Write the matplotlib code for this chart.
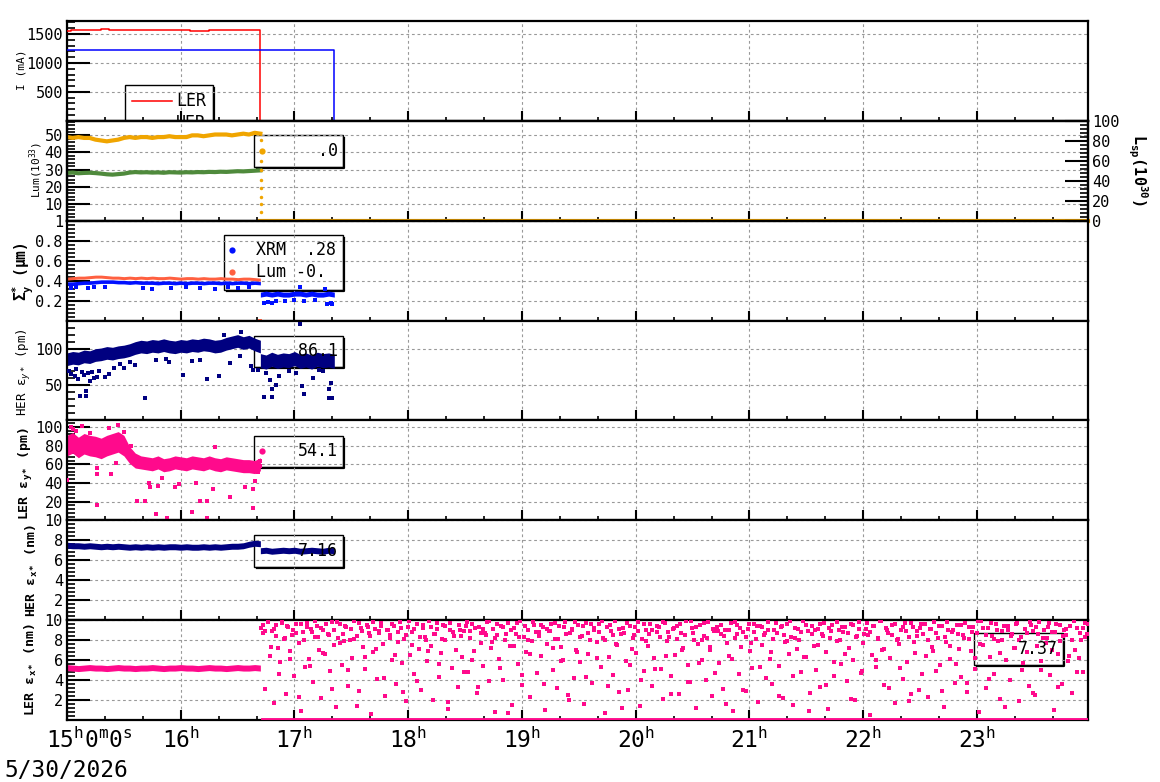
import matplotlib.pyplot as plt
import numpy as np
from matplotlib.patches import Rectangle
from matplotlib.ticker import MultipleLocator

plt.rcParams["font.family"] = ["DejaVu Sans Mono", "DejaVu Sans"]
plt.rcParams["mathtext.fontset"] = "custom"
plt.rcParams["mathtext.rm"] = "DejaVu Sans Mono"
plt.rcParams["mathtext.it"] = "DejaVu Sans Mono:italic"
plt.rcParams["mathtext.bf"] = "DejaVu Sans Mono:bold"

W, H = 1160, 782
X_END = 8.976  # hours after 15:00

# ---- data (time in minutes after 15:00) ----
ler_cur_min = [0, 2, 17, 18, 21, 22, 62, 64, 65, 66, 75, 76, 102, 102, 141]
ler_cur_ma = [1545, 1575, 1575, 1592, 1592, 1575, 1575, 1560, 1550, 1558, 1560, 1575, 1575, 0, 0]
her_cur_min = [0, 1, 141, 141, 143]
her_cur_ma = [1222, 1230, 1230, 0, 0]

band_min = np.arange(0, 103, 3)      # sampling of the pre-abort bands
post_min = np.arange(102, 142, 3)    # HER-only period

lum_ler = [49, 48.5, 49, 48.5, 48.5, 47.5, 47, 46.5, 47, 47.5, 48.5, 49, 48.5, 49, 49,
           48.5, 49, 49, 49.5, 49, 49, 49, 50, 50, 49.5, 50, 50.5, 50.5, 50.5, 50, 50.5,
           51, 50.5, 51.5, 51]
lum_her = [28, 28.2, 27.8, 28, 28.1, 27.9, 27.6, 27.2, 27, 27.3, 27.6, 28.2, 28.5, 28.3,
           28.4, 28.2, 28.3, 28.1, 28.4, 28.3, 28.2, 28.4, 28.3, 28.5, 28.4, 28.6, 28.5,
           28.7, 28.6, 28.8, 29, 28.9, 29.1, 29.3, 29.5]
lum_drop_val = [47, 41, 35, 30, 24, 19, 14, 10, 5]
lum_zero_t = [1.70, X_END]
lum_zero_v = [0, 0]

sig_xrm = [0.37, 0.37, 0.375, 0.38, 0.38, 0.385, 0.39, 0.39, 0.39, 0.385, 0.385, 0.38,
           0.385, 0.38, 0.38, 0.38, 0.375, 0.38, 0.38, 0.375, 0.38, 0.375, 0.38, 0.38,
           0.375, 0.38, 0.38, 0.375, 0.38, 0.375, 0.38, 0.38, 0.375, 0.38, 0.375]
sig_lum = [0.42, 0.425, 0.43, 0.43, 0.435, 0.44, 0.44, 0.435, 0.43, 0.43, 0.425, 0.43,
           0.425, 0.43, 0.425, 0.43, 0.425, 0.425, 0.43, 0.425, 0.42, 0.425, 0.425, 0.42,
           0.425, 0.42, 0.42, 0.425, 0.42, 0.42, 0.415, 0.42, 0.42, 0.415, 0.41]
sig_xrm_post = [0.26, 0.27, 0.26, 0.27, 0.26, 0.26, 0.27, 0.27, 0.26, 0.27, 0.26, 0.26, 0.27, 0.26]
sig_out_min = [2, 5, 11, 14, 20, 40, 45, 55, 63, 70, 78, 85, 90, 96,
               104, 106, 108, 110, 115, 120, 123, 125, 131, 136, 137, 139, 140]
sig_out_val = [0.33, 0.34, 0.33, 0.34, 0.335, 0.33, 0.32, 0.33, 0.34, 0.33, 0.32, 0.335, 0.33, 0.34,
               0.18, 0.19, 0.18, 0.2, 0.2, 0.21, 0.34, 0.2, 0.21, 0.32, 0.17, 0.18, 0.17]

her_ey = [86, 88, 87, 90, 89, 92, 93, 95, 94, 96, 97, 99, 102, 104, 103, 105, 104, 106,
          104, 103, 105, 104, 106, 105, 107, 106, 104, 105, 108, 110, 112, 109, 111, 107, 104]
her_ey_post = [84, 82, 86, 83, 85, 84, 87, 83, 85, 82, 86, 84, 85, 83]
her_ey_out_min = [1, 2, 4, 5, 6, 7, 8, 9, 10, 10, 11, 12, 13, 14, 16, 17, 20, 22, 25, 28,
                  30, 33, 36, 41, 47, 52, 54, 61, 66, 70, 74, 80, 83, 86, 91, 92, 97, 98,
                  101, 104, 105, 107, 108, 108, 110, 112, 117, 121, 123, 124, 125, 130,
                  133, 135, 138, 138, 139, 140, 140]
her_ey_out_val = [70, 65, 62, 72, 58, 34, 68, 63, 34, 41, 66, 55, 68, 60, 61, 70, 61, 65, 74, 79,
                  73, 82, 78, 31, 85, 86, 82, 63, 83, 85, 58, 62, 120, 81, 90, 125, 76, 71,
                  71, 32, 67, 57, 32, 43, 50, 62, 69, 66, 136, 48, 36, 60, 71, 69, 43,
                  31, 52, 79, 31]

ler_ey = [80, 83, 78, 82, 80, 79, 77, 80, 82, 84, 80, 70, 64, 62, 61, 60, 62, 59, 60, 62,
          61, 60, 62, 61, 60, 62, 60, 59, 61, 60, 59, 58, 58, 57, 60]
ler_ey_half = [11, 11, 11, 11, 11, 11, 11, 11, 11, 11, 11, 9, 8, 7, 7, 7, 7, 7, 7, 7, 7, 7,
               7, 7, 7, 7, 7, 7, 7, 7, 7, 7, 7, 7, 7]
ler_ey_out_min = [0, 2, 3, 5, 8, 12, 16, 16, 16, 22, 23, 26, 27, 30, 34, 37, 41, 43, 44, 47,
                  48, 50, 53, 57, 59, 66, 68, 70, 74, 74, 77, 78, 86, 94, 98, 98, 99, 101, 102, 102]
ler_ey_out_val = [43, 100, 98, 96, 101, 94, 56, 50, 16, 99, 50, 61, 102, 95, 80, 21, 21, 40, 36, 7,
                  37, 45, 2, 36, 39, 9, 40, 21, 21, 2, 34, 79, 25, 36, 33, 13, 42, 52, 58, 64]

her_ex = [7.5, 7.45, 7.45, 7.4, 7.45, 7.4, 7.35, 7.4, 7.35, 7.4, 7.35, 7.3, 7.35, 7.3,
          7.35, 7.3, 7.35, 7.3, 7.35, 7.35, 7.3, 7.35, 7.3, 7.3, 7.35, 7.3, 7.35, 7.3,
          7.35, 7.4, 7.4, 7.45, 7.6, 7.7, 7.65]
her_ex_post = [6.95, 7.0, 6.9, 6.95, 7.0, 6.95, 7.0, 6.9, 6.95, 7.0, 6.95, 6.9, 7.0, 6.95]

ler_ex = [5.25, 5.2, 5.15, 5.2, 5.25, 5.2, 5.2, 5.15, 5.2, 5.25, 5.2, 5.2, 5.15, 5.2, 5.2,
          5.25, 5.2, 5.15, 5.2, 5.2, 5.25, 5.2, 5.2, 5.15, 5.2, 5.25, 5.2, 5.2, 5.15, 5.2,
          5.25, 5.2, 5.2, 5.25, 5.2]
# noisy readings after the LER abort (two interleaved sample streams)
ler_ex_scatter_a = [
    9.2, 8.7, 3.1, 9.8, 6.4, 8.9, 1.7, 9.5, 7.2, 5.8, 9.9, 8.1, 2.6, 9.3, 6.9, 8.5, 4.4, 9.6, 7.7, 0.9,
    8.8, 5.3, 9.7, 6.1, 9.1, 3.8, 8.3, 9.4, 7.0, 2.2, 9.0, 6.6, 8.6, 4.9, 9.8, 7.5, 1.3, 8.2, 9.6, 5.5,
    7.9, 9.3, 3.4, 8.0, 6.2, 9.9, 8.4, 2.9, 9.2, 7.3, 5.1, 9.5, 8.7, 0.6, 6.8, 9.1, 4.1, 8.9, 9.7, 7.6,
    2.4, 9.0, 8.5, 6.0, 9.4, 3.6, 7.8, 9.8, 5.7, 8.1, 1.9, 9.3, 6.5, 8.8, 4.6, 9.6, 7.1, 3.0, 9.2, 8.3,
    5.9, 9.9, 7.4, 2.0, 8.6, 9.1, 4.3, 6.7, 9.5, 8.0, 1.1, 9.7, 5.2, 8.4, 7.0, 3.3, 9.0, 6.3, 8.9, 9.4,
    4.8, 8.2, 9.6, 6.9, 2.7, 9.3, 7.7, 5.4, 8.7, 9.8, 3.9, 7.2, 9.1, 0.8, 8.5, 6.1, 9.4, 4.0, 8.0, 9.7,
    7.4, 1.5, 9.2, 8.6, 5.6, 9.9, 3.5, 8.3, 6.8, 9.0, 2.3, 7.9, 9.5, 4.7, 8.8, 6.4, 9.3, 1.0, 7.6, 8.9,
    9.6, 5.0, 8.1, 3.2, 9.4, 7.3, 6.0, 9.8, 2.5, 8.7, 9.1, 4.2, 7.0, 9.5, 5.8, 8.4, 1.6, 9.7, 6.6, 8.0,
    3.7, 9.0, 7.8, 9.6, 5.3, 8.2, 0.7, 9.3, 6.3, 8.9, 4.5, 9.9, 7.5, 2.8, 8.6, 9.2, 5.9, 3.0, 9.4, 7.1,
    8.5, 6.7, 9.8, 1.4, 8.1, 4.9, 9.0, 7.4, 9.6, 3.4, 6.2, 8.8, 9.3, 5.1, 2.1, 9.7, 7.9, 8.3, 4.4, 9.1,
    6.5, 9.4, 2.6, 8.7, 7.2, 9.9, 5.5, 3.8, 9.2, 8.0, 1.2, 7.6, 9.5, 6.0, 8.4, 4.0, 9.8, 7.0, 2.4, 8.9,
    9.3, 5.7, 8.6, 3.1, 9.0, 7.7, 6.4, 9.7, 0.9, 8.2, 9.5, 4.6, 7.3, 8.8, 2.9, 9.1, 6.9, 5.2, 9.6, 8.1,
    1.8, 9.4, 7.5, 8.5, 4.2, 9.8, 6.1, 3.6, 9.0, 8.7, 5.4, 9.3, 2.2, 7.8, 9.6, 6.6, 8.3, 1.5, 9.2, 7.1,
    8.0, 4.8, 9.9, 6.3, 8.9, 2.7, 9.4, 7.4, 5.0, 9.1, 3.3, 8.6, 9.7, 6.8, 1.1, 8.2, 9.5, 4.4, 7.9, 9.0,
    5.6, 8.8, 9.3, 3.9, 7.2, 9.6, 6.0, 2.0, 8.4, 9.8, 4.7, 7.7, 9.1, 8.5, 0.5, 6.5, 9.4, 5.3, 8.1, 9.9,
    7.0, 3.5, 9.2, 8.7, 6.2, 9.5, 1.7, 8.0, 7.6, 9.0, 4.1, 9.7, 5.8, 8.3, 2.6, 9.3, 6.7, 8.9, 3.0, 9.6,
    8.6, 6.4, 2.3, 9.1, 7.3, 9.8, 4.9, 8.2, 5.5, 9.4, 1.3, 7.8, 9.0, 6.1, 8.8, 3.7, 9.5, 7.1, 4.3, 8.5,
    9.7, 2.8, 8.1, 6.9, 9.3, 5.1, 8.7, 0.8, 9.9, 7.5, 3.2, 9.2, 6.3, 8.4, 4.6, 9.6, 7.9, 2.1, 8.0, 9.4,
    6.0, 9.0, 4.0, 8.6, 7.2, 9.7, 1.9, 8.3, 5.7, 9.1, 6.8, 3.4, 9.5, 8.9, 2.5, 7.4, 9.8, 5.0, 8.2, 7.7,
    9.3, 4.5, 8.8, 1.0, 9.6, 6.6, 7.9, 3.6, 9.0, 8.5, 5.9, 9.4, 2.7, 7.0, 9.2, 6.2, 8.0, 4.8, 9.7, 8.6,
]
ler_ex_scatter_b = [
    9.5, 8.9, 9.8, 7.3, 9.1, 8.4, 4.6, 9.7, 8.2, 9.4, 6.1, 9.0, 8.7, 2.3, 9.6, 8.0, 9.3, 5.4, 8.8, 9.9,
    8.3, 9.2, 6.7, 9.6, 8.5, 3.1, 9.0, 9.8, 7.7, 8.6, 9.4, 5.0, 9.1, 8.1, 1.4, 9.7, 8.9, 6.3, 9.3, 8.4,
    9.8, 7.1, 8.7, 9.4, 4.2, 9.0, 8.2, 9.6, 6.5, 8.8, 9.2, 2.8, 8.5, 9.9, 7.5, 9.1, 3.9, 8.3, 9.5, 8.0,
    6.9, 9.3, 8.6, 9.7, 5.6, 8.1, 9.4, 1.8, 9.0, 8.8, 7.0, 9.5, 8.4, 4.8, 9.8, 8.9, 6.0, 9.2, 3.3, 8.7,
    9.1, 8.5, 9.9, 7.8, 8.2, 9.6, 5.2, 9.3, 8.6, 0.7, 9.0, 7.4, 9.7, 8.3, 4.5, 9.4, 8.0, 6.6, 9.8, 8.8,
    8.4, 9.5, 3.6, 9.1, 8.9, 7.2, 9.7, 8.1, 5.9, 9.3, 8.6, 2.0, 9.0, 9.8, 6.8, 8.3, 9.4, 4.3, 8.7, 9.6,
    9.2, 6.2, 8.8, 9.9, 8.0, 3.4, 9.5, 8.5, 7.6, 9.1, 1.2, 8.7, 9.7, 5.5, 8.2, 9.3, 8.9, 4.0, 9.6, 7.9,
    8.6, 9.0, 5.1, 9.4, 8.3, 9.8, 6.4, 8.8, 2.6, 9.2, 8.1, 9.6, 7.0, 8.5, 3.8, 9.9, 8.7, 9.3, 5.7, 8.0,
    9.7, 8.2, 7.3, 9.1, 4.7, 8.9, 9.5, 8.4, 1.6, 9.0, 6.1, 9.8, 8.6, 9.2, 3.0, 8.3, 9.6, 7.7, 8.8, 9.4,
    5.3, 9.3, 8.7, 9.0, 6.8, 8.1, 9.7, 2.4, 9.4, 8.5, 7.9, 9.9, 4.4, 8.2, 9.1, 8.8, 6.3, 9.5, 0.9, 8.6,
    9.0, 7.5, 9.6, 8.4, 3.5, 9.2, 8.9, 5.8, 9.8, 8.0, 9.3, 6.6, 8.7, 2.1, 9.5, 8.3, 9.1, 4.9, 8.6, 9.7,
    8.8, 9.4, 6.0, 8.2, 9.9, 7.1, 9.0, 3.2, 8.5, 9.6, 8.1, 5.2, 9.3, 8.9, 1.9, 9.7, 7.8, 8.4, 9.2, 4.6,
    9.6, 8.0, 9.1, 6.9, 8.7, 9.4, 2.9, 8.3, 9.8, 7.4, 9.0, 5.6, 8.6, 9.5, 8.2, 3.7, 9.3, 8.8, 6.2, 9.9,
    7.6, 9.2, 8.5, 4.1, 9.7, 8.1, 9.0, 6.7, 8.9, 1.3, 9.4, 8.4, 7.2, 9.6, 8.0, 5.0, 9.1, 8.7, 9.8, 2.7,
    9.3, 8.6, 5.9, 9.0, 8.2, 9.7, 7.0, 8.8, 3.3, 9.5, 8.4, 9.1, 6.4, 8.0, 9.9, 4.8, 8.7, 9.2, 8.3, 9.6,
]
ler_zero_t = [1.72, X_END]
ler_zero_v = [0, 0]

hour_labels = ["", "16", "17", "18", "19", "20", "21", "22", "23"]

ORANGE = "#f0a500"
GREEN = "#4f8a3c"
TOMATO = "#ff6040"
BLUE = "#0010ff"
NAVY = "#000080"
PINK = "#ff0a8c"

fig = plt.figure(figsize=(W / 100, H / 100), dpi=100)
ph = 699 / 7
axes = []
for i in range(7):
    top = 21 + i * ph
    axes.append(fig.add_axes([67 / W, 1 - (top + ph) / H, (1088 - 67) / W, ph / H]))


def style(ax, ylim, majors, labels, minor):
    ax.set_xlim(0, X_END)
    ax.set_ylim(*ylim)
    ax.set_yticks(majors)
    ax.set_yticklabels(labels)
    ax.yaxis.set_minor_locator(MultipleLocator(minor))
    ax.set_xticks(np.arange(0, 9))
    ax.xaxis.set_minor_locator(MultipleLocator(1 / 3))
    ax.tick_params(axis="y", which="major", direction="in", length=16.5, width=1.5, labelsize=11, pad=3)
    ax.tick_params(axis="y", which="minor", direction="in", length=5.8, width=1.2)
    ax.tick_params(axis="x", which="major", direction="in", length=7.2, width=1.5)
    ax.tick_params(axis="x", which="minor", direction="in", length=3, width=1.2)
    ax.tick_params(axis="x", labelbottom=False)
    ax.grid(True, which="major", color="#999999", linestyle=(0, (2.5, 2.5)), linewidth=0.8)
    for s in ax.spines.values():
        s.set_linewidth(1.6)


def band(ax, minutes, center, half, color):
    t = np.asarray(minutes) / 60
    c = np.asarray(center)
    h = np.asarray(half)
    ax.fill_between(t, c - h, c + h, color=color, lw=0, zorder=2)


def fx(px):
    return px / W


def fy(py):
    return 1 - py / H


def legend_box(ax, x0, y0, x1, y1, fill=False):
    ax.add_patch(Rectangle((fx(x0), fy(y1)), fx(x1) - fx(x0), fy(y0) - fy(y1),
                           transform=fig.transFigure, fill=fill, fc="white", ec="black",
                           lw=1.0, zorder=1.5, clip_on=False))
    ax.plot([fx(x1 + 1), fx(x1 + 1), fx(x0 + 3)], [fy(y0 + 3), fy(y1 + 1), fy(y1 + 1)],
            transform=fig.transFigure, color="black", lw=1.6, zorder=1.5, clip_on=False)


def legend_text(ax, px, py, s, ha="left", size=12):
    ax.text(fx(px), fy(py), s, transform=fig.transFigure, ha=ha, va="center",
            fontsize=size, zorder=5, clip_on=False)


def legend_dot(ax, px, py, color):
    ax.plot([fx(px)], [fy(py)], "o", color=color, ms=4.5, mew=0,
            transform=fig.transFigure, zorder=5, clip_on=False)


# ---- panel 1: currents ----
ax = axes[0]
style(ax, (0, 1724), [500, 1000, 1500], ["500", "1000", "1500"], 100)
ax.plot(np.asarray(ler_cur_min) / 60, ler_cur_ma, color="red", lw=1.1, drawstyle="steps-post", zorder=3)
ax.plot(np.asarray(her_cur_min) / 60, her_cur_ma, color="blue", lw=1.1, drawstyle="steps-post", zorder=3)
legend_box(ax, 125, 85, 213, 140, fill=True)
ax.plot([fx(132), fx(172)], [fy(101), fy(101)], transform=fig.transFigure, color="red", lw=1.1, zorder=5, clip_on=False)
ax.plot([fx(132), fx(172)], [fy(123), fy(123)], transform=fig.transFigure, color="blue", lw=1.1, zorder=5, clip_on=False)
legend_text(ax, 176, 101, "LER")
legend_text(ax, 176, 123, "HER")

# ---- panel 2: luminosity ----
ax = axes[1]
style(ax, (0, 58.5), [10, 20, 30, 40, 50], ["10", "20", "30", "40", "50"], 2)
ax.plot(band_min / 60, lum_ler, color=ORANGE, lw=3, zorder=3)
ax.plot(band_min / 60, lum_her, color=GREEN, lw=3, zorder=3)
ax.plot([1.705] * len(lum_drop_val), lum_drop_val, "o", color=ORANGE, ms=2.5, mew=0, zorder=3)
ax.plot(lum_zero_t, lum_zero_v, color=ORANGE, lw=3, zorder=6, clip_on=False)
axr = ax.twinx()
axr.set_ylim(0, 100)
axr.set_yticks([0, 20, 40, 60, 80, 100])
axr.yaxis.set_minor_locator(MultipleLocator(4))
axr.tick_params(axis="y", which="major", direction="in", length=16.5, width=1.5, labelsize=11, pad=3)
axr.tick_params(axis="y", which="minor", direction="in", length=5.8, width=1.2)
for s in axr.spines.values():
    s.set_linewidth(1.6)
legend_box(ax, 254, 135, 343, 167)
legend_dot(ax, 262, 151, ORANGE)
legend_text(ax, 338, 151, ".0", ha="right")

# ---- panel 3: vertical beam size ----
ax = axes[2]
style(ax, (0, 1), [0.2, 0.4, 0.6, 0.8, 1.0], ["0.2", "0.4", "0.6", "0.8", "1"], 0.04)
band(ax, band_min, sig_xrm, 0.018, BLUE)
band(ax, band_min, sig_lum, 0.015, TOMATO)
band(ax, post_min, sig_xrm_post, 0.025, BLUE)
ax.plot(np.asarray(sig_out_min) / 60, sig_out_val, "s", color=BLUE, ms=2.2, mew=0, zorder=3)
ax.plot([1.70], [0.0], "s", color=TOMATO, ms=3, mew=0, zorder=3, clip_on=False)
legend_box(ax, 224, 235, 343, 290)
legend_dot(ax, 232, 250, BLUE)
legend_dot(ax, 232, 272, TOMATO)
legend_text(ax, 256, 250, "XRM  .28")
legend_text(ax, 256, 272, "Lum -0.")

# ---- panel 4: HER vertical emittance ----
ax = axes[3]
style(ax, (-1, 141), [50, 100], ["50", "100"], 10)
legend_box(ax, 254, 336, 343, 367)
legend_text(ax, 338, 351, "86.1", ha="right")
band(ax, band_min, her_ey, 9, NAVY)
band(ax, post_min, her_ey_post, 10, NAVY)
ax.plot(np.asarray(her_ey_out_min) / 60, her_ey_out_val, "s", color=NAVY, ms=2.4, mew=0, zorder=3)

# ---- panel 5: LER vertical emittance ----
ax = axes[4]
style(ax, (0, 107), [20, 40, 60, 80, 100], ["20", "40", "60", "80", "100"], 4)
band(ax, band_min, ler_ey, ler_ey_half, PINK)
ax.plot(np.asarray(ler_ey_out_min) / 60, ler_ey_out_val, "s", color=PINK, ms=2.4, mew=0, zorder=3)
legend_box(ax, 254, 436, 343, 467)
legend_dot(ax, 262, 451, PINK)
legend_text(ax, 338, 451, "54.1", ha="right")

# ---- panel 6: HER horizontal emittance ----
ax = axes[5]
style(ax, (0, 10), [2, 4, 6, 8, 10], ["2", "4", "6", "8", "10"], 0.4)
legend_box(ax, 254, 535, 343, 567)
legend_text(ax, 338, 551, "7.16", ha="right")
band(ax, band_min, her_ex, 0.3, NAVY)
band(ax, post_min, her_ex_post, 0.3, NAVY)

# ---- panel 7: LER horizontal emittance ----
ax = axes[6]
style(ax, (0, 10), [2, 4, 6, 8, 10], ["2", "4", "6", "8", "10"], 0.4)
legend_box(ax, 974, 633, 1063, 665)
legend_text(ax, 1058, 649, "7.37", ha="right")
band(ax, band_min, ler_ex, 0.3, PINK)
t_a = np.linspace(102.5, 538, len(ler_ex_scatter_a)) / 60
t_b = np.linspace(103.2, 538.6, len(ler_ex_scatter_b)) / 60
ax.plot(t_a, ler_ex_scatter_a, "s", color=PINK, ms=2.9, mew=0, zorder=3)
ax.plot(t_b, ler_ex_scatter_b, "s", color=PINK, ms=2.9, mew=0, zorder=3)
ax.plot(ler_zero_t, ler_zero_v, color=PINK, lw=3.5, zorder=3)
ax.tick_params(axis="x", labelbottom=True, labelsize=16.5, pad=5)
ax.set_xticklabels([r"$\mathrm{%s^{h}}$" % s if s else "" for s in hour_labels])

fig.text(fx(46), fy(727), r"$\mathrm{15^{h}0^{m}0^{s}}$", fontsize=16.5, ha="left", va="top")
fig.text(fx(4), fy(777), "5/30/2026", fontsize=16.5, ha="left", va="baseline")

# ---- axis titles ----
fig.text(fx(22), fy(70), "I (mA)", rotation=90, ha="center", va="center", fontsize=8)
fig.text(fx(36), fy(170), "Lum(10$^{33}$)", rotation=90, ha="center", va="center", fontsize=8)
fig.text(fx(23), fy(272), r"Σ$_{\mathbf{y}}^{\mathbf{*}}$ (μm)", rotation=90, ha="center", va="center",
         fontsize=10.5, fontweight="bold")
fig.text(fx(24), fy(372), "HER ε$_{y*}$ (pm)", rotation=90, ha="center", va="center", fontsize=9)
fig.text(fx(26), fy(473), r"LER ε$_{\mathbf{y*}}$ (pm)", rotation=90, ha="center", va="center",
         fontsize=9.5, fontweight="bold")
fig.text(fx(32), fy(570), r"HER ε$_{\mathbf{x*}}$ (nm)", rotation=90, ha="center", va="center",
         fontsize=9.5, fontweight="bold")
fig.text(fx(31), fy(669), r"LER ε$_{\mathbf{x*}}$ (nm)", rotation=90, ha="center", va="center",
         fontsize=9.5, fontweight="bold")
fig.text(fx(1138), fy(170), r"L$_{\mathbf{sp}}$(10$^{\mathbf{30}}$)", rotation=-90, ha="center",
         va="center", fontsize=11, fontweight="bold")

fig.savefig("out.png", dpi=100)
